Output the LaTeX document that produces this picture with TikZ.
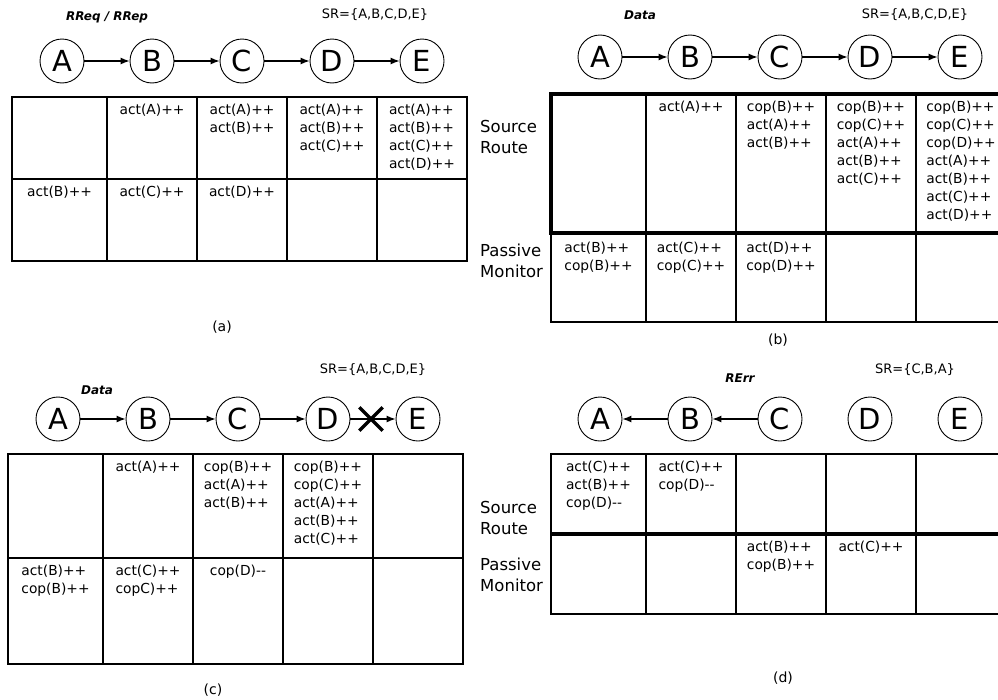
\documentclass[tikz,border=0pt]{standalone}
\usepackage{fontspec}
\setmainfont{DejaVu Sans}
\usetikzlibrary{arrows.meta,positioning,shapes.misc}

\begin{document}
\begin{tikzpicture}[x=1pt,y=-1pt,
  st/.style={circle,draw,line width=0.9pt,minimum size=44pt,inner sep=0pt,font=\fontsize{29}{29}\selectfont},
  link/.style={line width=1.1pt,-{Latex[length=9pt,width=7pt]}},
  grid/.style={line width=1.6pt},
  heavy/.style={line width=3.4pt},
  entry/.style={anchor=north,align=left,inner sep=0pt,font=\fontsize{13.8}{18}\selectfont},
  side/.style={anchor=north west,align=left,inner sep=0pt,font=\fontsize{16.5}{21}\selectfont},
  msg/.style={font=\fontsize{12}{12}\selectfont\bfseries\itshape},
  sr/.style={font=\fontsize{13}{13}\selectfont},
  sublabel/.style={font=\fontsize{14}{14}\selectfont},
]
  \useasboundingbox (0,0) rectangle (998,699);
  \clip (0,0) rectangle (998,699);

  % (a) route request / reply
  \foreach \n [count=\i] in {A,B,C,D,E}
    \node[st] (a\n) at (62+90*\i-90,61) {\n};
  \draw[link] (aA) -- (aB);
  \draw[link] (aB) -- (aC);
  \draw[link] (aC) -- (aD);
  \draw[link] (aD) -- (aE);
  \node[msg] (amsg) at (107,17) {RReq / RRep};
  \node[sr] (asr) at (375,15) {SR=\{A,B,C,D,E\}};
  \draw[grid] (12,97) rectangle (467,261);
  \draw[grid] (12,179) -- (467,179);
  \foreach \x in {107,197,287,377}
    \draw[grid] (\x,97) -- (\x,261);
  \node[entry] (a-srB) at (152,104) {act(A)++};
  \node[entry] (a-srC) at (242,104) {act(A)++\\act(B)++};
  \node[entry] (a-srD) at (332,104) {act(A)++\\act(B)++\\act(C)++};
  \node[entry] (a-srE) at (422,104) {act(A)++\\act(B)++\\act(C)++\\act(D)++};
  \node[entry] (a-pmA) at (59.5,186) {act(B)++};
  \node[entry] (a-pmB) at (152,186) {act(C)++};
  \node[entry] (a-pmC) at (242,186) {act(D)++};
  \node[sublabel] (alab) at (222,327) {(a)};

  % row labels
  \node[side] (srtop) at (480,120) {Source\\Route};
  \node[side] (pmtop) at (480,244) {Passive\\Monitor};
  \node[side] (srbot) at (480,501) {Source\\Route};
  \node[side] (pmbot) at (480,558) {Passive\\Monitor};

  % (b) data forwarding
  \foreach \n [count=\i] in {A,B,C,D,E}
    \node[st] (b\n) at (600+90*\i-90,57) {\n};
  \draw[link] (bA) -- (bB);
  \draw[link] (bB) -- (bC);
  \draw[link] (bC) -- (bD);
  \draw[link] (bD) -- (bE);
  \node[msg] (bmsg) at (640,15) {Data};
  \node[sr] (bsr) at (915,15) {SR=\{A,B,C,D,E\}};
  \draw[grid] (551,233) -- (551,322) -- (1006,322);
  \foreach \x in {646,736,826,916}
    \draw[grid] (\x,94) -- (\x,322);
  \draw[heavy] (1010,94) -- (551,94) -- (551,233) -- (1010,233);
  \node[entry] (b-srB) at (691,101) {act(A)++};
  \node[entry] (b-srC) at (781,101) {cop(B)++\\act(A)++\\act(B)++};
  \node[entry] (b-srD) at (871,101) {cop(B)++\\cop(C)++\\act(A)++\\act(B)++\\act(C)++};
  \node[entry] (b-srE) at (961,101) {cop(B)++\\cop(C)++\\cop(D)++\\act(A)++\\act(B)++\\act(C)++\\act(D)++};
  \node[entry] (b-pmA) at (598.5,242) {act(B)++\\cop(B)++};
  \node[entry] (b-pmB) at (691,242) {act(C)++\\cop(C)++};
  \node[entry] (b-pmC) at (781,242) {act(D)++\\cop(D)++};
  \node[sublabel] (blab) at (778,340) {(b)};

  % (c) link break
  \foreach \n [count=\i] in {A,B,C,D,E}
    \node[st] (c\n) at (58+90*\i-90,419) {\n};
  \draw[link] (cA) -- (cB);
  \draw[link] (cB) -- (cC);
  \draw[link] (cC) -- (cD);
  \draw[link] (cD) -- (cE);
  \node[draw,cross out,line width=3.4pt,minimum size=20pt] (cut) at (371,419) {};
  \node[msg] (cmsg) at (97,390) {Data};
  \node[sr] (csr) at (373,370) {SR=\{A,B,C,D,E\}};
  \draw[grid] (8,454) rectangle (463,664);
  \draw[grid] (8,558) -- (463,558);
  \foreach \x in {103,193,283,373}
    \draw[grid] (\x,454) -- (\x,664);
  \node[entry] (c-srB) at (148,461) {act(A)++};
  \node[entry] (c-srC) at (238,461) {cop(B)++\\act(A)++\\act(B)++};
  \node[entry] (c-srD) at (328,461) {cop(B)++\\cop(C)++\\act(A)++\\act(B)++\\act(C)++};
  \node[entry] (c-pmA) at (55.5,565) {act(B)++\\cop(B)++};
  \node[entry] (c-pmB) at (148,565) {act(C)++\\copC)++};
  \node[entry] (c-pmC) at (238,565) {cop(D)-{}-};
  \node[sublabel] (clab) at (213,690) {(c)};

  % (d) route error
  \foreach \n [count=\i] in {A,B,C,D,E}
    \node[st] (d\n) at (600+90*\i-90,419) {\n};
  \draw[link] (dC) -- (dB);
  \draw[link] (dB) -- (dA);
  \node[msg] (dmsg) at (740,378) {RErr};
  \node[sr] (dsr) at (915,370) {SR=\{C,B,A\}};
  \draw[grid] (1006,454) -- (551,454) -- (551,614) -- (1006,614);
  \foreach \x in {646,736,826,916}
    \draw[grid] (\x,454) -- (\x,614);
  \draw[heavy] (551,534) -- (1010,534);
  \node[entry] (d-srA) at (598.5,461) {act(C)++\\act(B)++\\cop(D)-{}-};
  \node[entry] (d-srB) at (691,461) {act(C)++\\cop(D)-{}-};
  \node[entry] (d-pmC) at (781,541) {act(B)++\\cop(B)++};
  \node[entry] (d-pmD) at (871,541) {act(C)++};
  \node[sublabel] (dlab) at (783,678) {(d)};
\end{tikzpicture}
\end{document}
